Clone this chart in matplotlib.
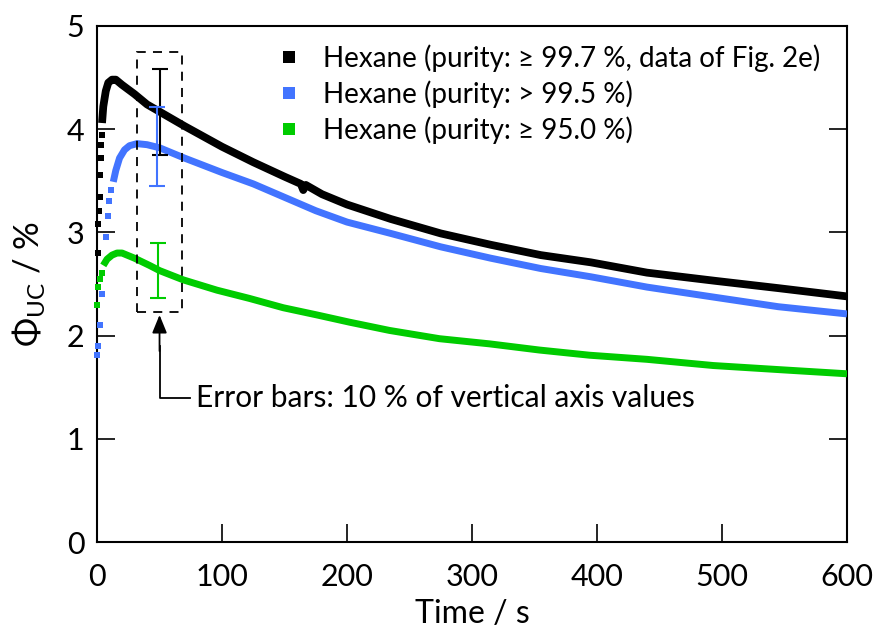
import matplotlib
matplotlib.use('Agg')
import matplotlib.pyplot as plt
from matplotlib.lines import Line2D
from matplotlib.patches import Rectangle

plt.rcParams['font.family'] = ['Lato', 'DejaVu Sans']
plt.rcParams['mathtext.fontset'] = 'custom'
plt.rcParams['mathtext.rm'] = 'Lato'

# ---- data ----
# first few sparse points of the fast rise (drawn as separate squares)
black_t_start = [0.5, 1.0, 1.5, 2.2, 2.6, 3.0, 3.3, 3.8]
black_y_start = [2.80, 3.08, 3.21, 3.34, 3.56, 3.72, 3.85, 3.94]
black_t = [4, 5, 7, 9, 12, 15, 20, 30, 40, 50, 70, 100, 125, 150, 163, 165, 167,
           180, 200, 235, 275, 315, 355, 395, 440, 495, 545, 600]
black_y = [4.06, 4.22, 4.37, 4.45, 4.48, 4.48, 4.43, 4.34, 4.24, 4.17, 4.03, 3.83,
           3.68, 3.54, 3.47, 3.41, 3.46, 3.37, 3.27, 3.13, 2.99, 2.88, 2.78, 2.71,
           2.61, 2.53, 2.46, 2.38]

blue_t_start = [0.0, 1.0, 2.4, 4.3, 7.2, 9.0, 9.9, 11.2]
blue_y_start = [1.81, 1.90, 2.10, 2.40, 2.96, 3.16, 3.30, 3.41]
blue_t = [13, 15, 18, 22, 26, 32, 40, 50, 70, 100, 125, 150, 175, 200, 235, 275,
          315, 355, 395, 440, 495, 545, 600]
blue_y = [3.49, 3.60, 3.72, 3.80, 3.84, 3.86, 3.85, 3.82, 3.72, 3.58, 3.47, 3.34,
          3.21, 3.10, 2.99, 2.86, 2.75, 2.65, 2.57, 2.47, 2.37, 2.28, 2.21]

green_t_start = [0.0, 1.0, 2.6, 4.3]
green_y_start = [2.30, 2.47, 2.55, 2.61]
green_t = [5, 8, 12, 16, 20, 30, 42, 50, 69, 96, 122, 149, 176, 202, 234, 274,
           314, 354, 394, 440, 493, 546, 600]
green_y = [2.68, 2.74, 2.78, 2.80, 2.80, 2.75, 2.68, 2.63, 2.54, 2.44, 2.36, 2.27,
           2.20, 2.13, 2.05, 1.97, 1.92, 1.86, 1.81, 1.77, 1.71, 1.67, 1.63]

# error bars (10 % of the value) near t = 50 s
err_t = [50, 48, 49]
err_y = [4.17, 3.83, 2.63]

labels = ['Hexane (purity: \u2265 99.7 %, data of Fig. 2e)',
          'Hexane (purity: > 99.5 %)',
          'Hexane (purity: \u2265 95.0 %)']
colors = ['#000000', '#4274FF', '#00CC00']

fig = plt.figure(figsize=(8.75, 6.34), dpi=100)
ax = fig.add_axes([0.1109, 0.1451, 0.8571, 0.8139])

series = [(black_t_start, black_y_start, black_t, black_y, 5.6),
          (blue_t_start, blue_y_start, blue_t, blue_y, 5.0),
          (green_t_start, green_y_start, green_t, green_y, 5.0)]
for (ts, ys, t, y, lw), c in zip(series, colors):
    ax.plot(ts, ys, 's', color=c, ms=5, mew=0, clip_on=False, zorder=3)
    ax.plot(t, y, '-', color=c, lw=lw, solid_capstyle='butt', zorder=3)

for t, y, c in zip(err_t, err_y, colors):
    ax.errorbar(t, y, yerr=0.1 * y, fmt='none', ecolor=c, elinewidth=1.5,
                capsize=6, capthick=1.5, zorder=4)

# dashed box around error bars and the explanatory arrow
ax.add_patch(Rectangle((32.3, 2.23), 36, 2.52, fill=False, ec='black', lw=1.3,
                       ls=(0, (5, 4)), zorder=5))
ax.plot([50, 50, 74], [1.9, 1.40, 1.40], color='black', lw=1.3, zorder=5)
ax.annotate('', xy=(50, 2.20), xytext=(50, 1.85),
            arrowprops=dict(arrowstyle='-|>,head_length=1.1,head_width=0.45',
                            color='black', lw=1.3, shrinkA=0, shrinkB=0))
ax.text(79, 1.40, 'Error bars: 10 % of vertical axis values', fontsize=21.5,
        va='center', ha='left')

handles = [Line2D([], [], ls='none', marker='s', ms=8, mew=0, color=c)
           for c in colors]
ax.legend(handles, labels, loc='upper left', bbox_to_anchor=(0.222, 0.986),
          frameon=False, fontsize=20, handletextpad=0.75, labelspacing=0.3,
          handlelength=1.0, borderaxespad=0)

ax.set_xlim(0, 600)
ax.set_ylim(0, 5)
ax.set_xticks([0, 100, 200, 300, 400, 500, 600])
ax.set_yticks([0, 1, 2, 3, 4, 5])
for s in ax.spines.values():
    s.set_linewidth(1.5)
ax.tick_params(direction='in', length=13, width=1.2, labelsize=22, pad=9,
               right=True, top=False)
ax.tick_params(axis='x', pad=15)
ax.set_xlabel('Time / s', fontsize=23, labelpad=6)
ax.set_ylabel('\u03a6$_{\\mathrm{UC}}$ / %', fontsize=25, labelpad=14)

plt.savefig('out.png', dpi=100)
